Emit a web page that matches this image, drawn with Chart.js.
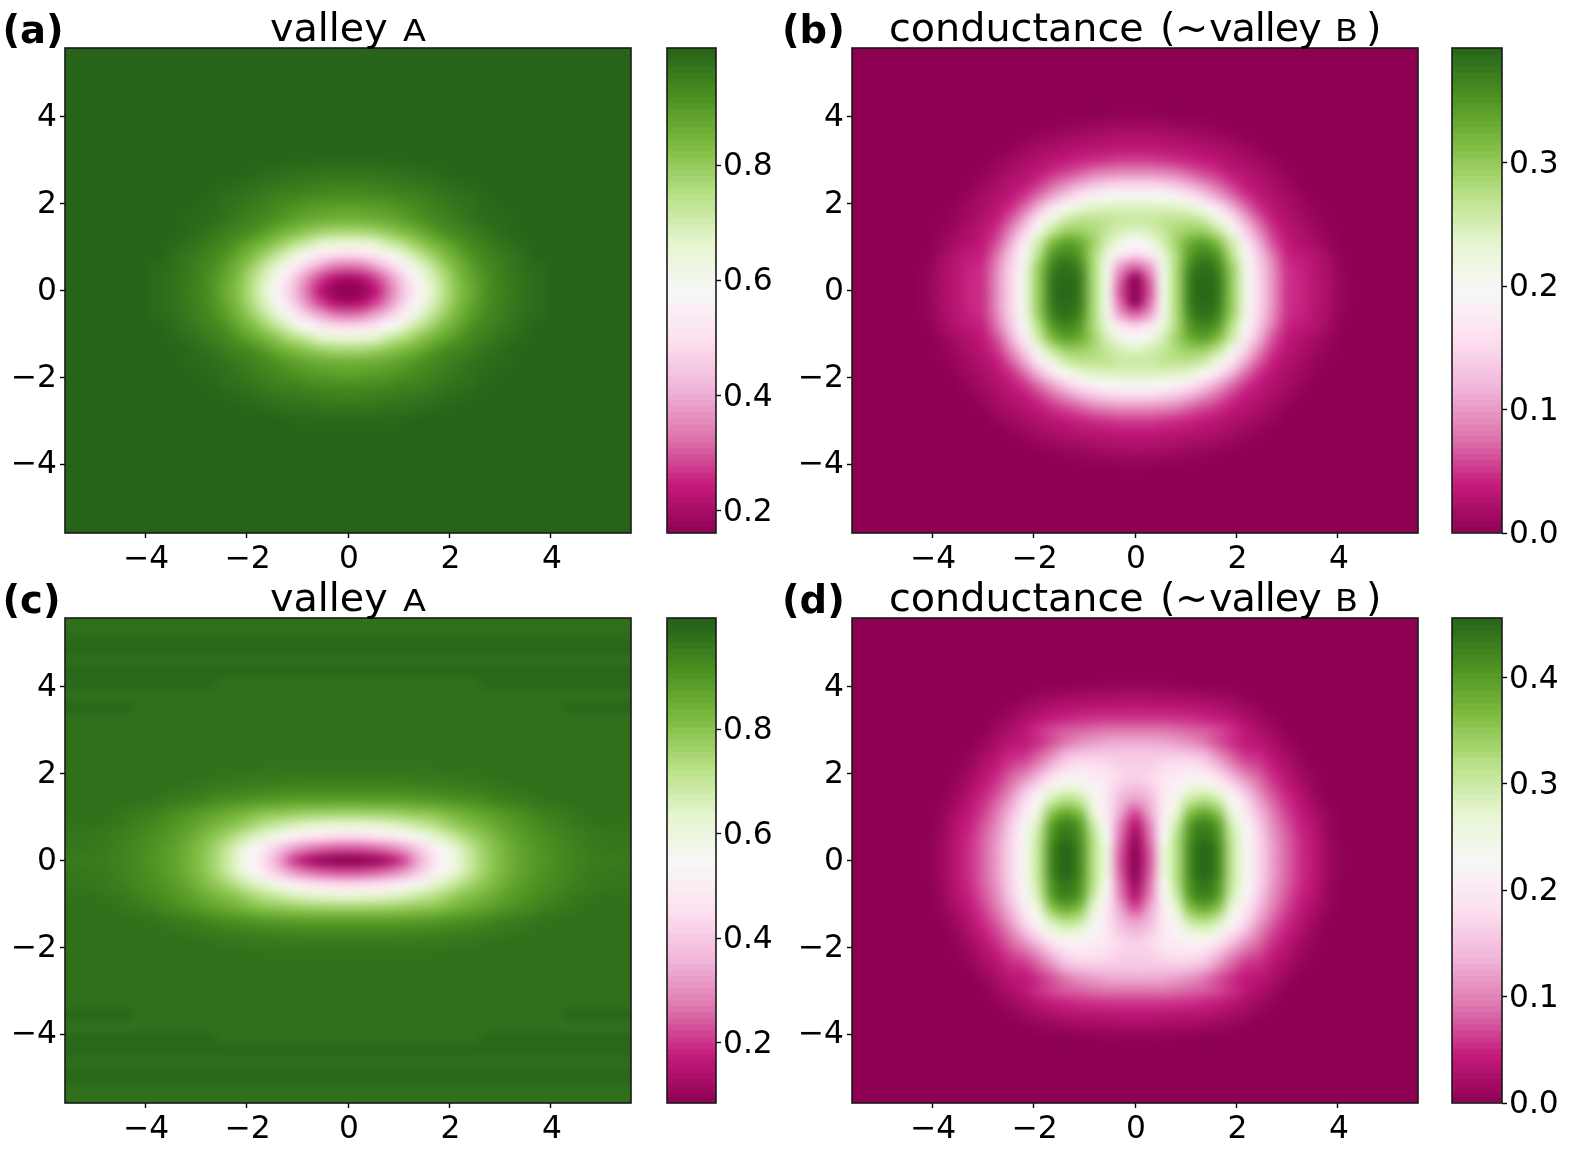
<!DOCTYPE html>
<html><head><meta charset="utf-8">
<script src="https://cdn.jsdelivr.net/npm/chart.js@4"></script>
<style>
html,body{margin:0;padding:0;background:#fff;width:1584px;height:1152px;overflow:hidden}
canvas{position:absolute}
.t{position:absolute;font-family:"DejaVu Sans";color:#000;white-space:pre;line-height:1}
.title{font-size:39.7px}.small{font-size:31px;transform:scaleX(1.08);transform-origin:left}.lab{font-size:38.5px;font-weight:bold}
.tight{font-size:39.7px;letter-spacing:-1px}
</style></head><body>
<script>
// Quadrant readings: rows are |y| steps, columns |x| steps; anything past a row's end is the panel background.
const backgroundA = 1.0, backgroundB = 0, backgroundC = 0.977, backgroundD = 0;
const panelA = [
[.161,.175,.235,.33,.44,.55,.66,.75,.82,.87,.92,.945,.965,.98,.99],
[.20,.22,.28,.36,.47,.57,.68,.76,.83,.88,.92,.95,.965,.98,.99],
[.32,.33,.385,.455,.545,.635,.72,.79,.85,.895,.93,.95,.97,.985,.99],
[.48,.49,.525,.58,.65,.72,.78,.835,.875,.92,.94,.96,.975,.99],
[.64,.65,.67,.715,.755,.80,.84,.875,.91,.94,.955,.975,.985,.995],
[.77,.77,.785,.81,.835,.86,.895,.925,.94,.955,.975,.985,.995],
[.85,.855,.86,.87,.89,.91,.93,.945,.96,.975,.985,.99,.995],
[.885,.89,.895,.905,.915,.93,.945,.955,.97,.98,.99,.995],
[.925,.925,.93,.935,.945,.95,.96,.97,.98,.985,.995],
[.95,.95,.955,.96,.965,.97,.975,.985,.99,.995],
[.975,.975,.975,.98,.98,.985,.99,.995],
[.993,.993,.993,.995,.995]
];
const panelB = [
[0,.060,.212,.283,.373,.393,.377,.299,.216,.149,.094,.051,.043,.031,.020,.006],
[.004,.070,.208,.283,.373,.389,.377,.299,.216,.149,.094,.051,.043,.031,.020,.006],
[.070,.100,.208,.283,.362,.385,.365,.295,.212,.145,.090,.049,.041,.029,.018,.004],
[.145,.165,.224,.283,.346,.365,.346,.275,.200,.134,.079,.043,.036,.027,.014,.002],
[.197,.208,.248,.291,.330,.342,.314,.255,.177,.114,.063,.037,.026,.018,.008],
[.240,.248,.263,.283,.295,.295,.267,.212,.145,.090,.051,.031,.022,.012,.004],
[.259,.259,.267,.271,.271,.255,.220,.169,.110,.067,.039,.026,.016,.008,.002],
[.244,.244,.244,.240,.228,.204,.165,.118,.075,.047,.031,.020,.012,.004],
[.204,.204,.197,.185,.165,.138,.106,.075,.051,.035,.024,.016,.008],
[.145,.145,.138,.126,.110,.090,.071,.051,.035,.028,.018,.010,.002],
[.090,.090,.086,.079,.067,.057,.047,.035,.028,.020,.012,.004],
[.055,.055,.051,.047,.043,.037,.031,.024,.018,.012,.006],
[.035,.035,.033,.031,.028,.024,.020,.016,.010,.004],
[.024,.024,.022,.020,.016,.014,.010,.006,.002],
[.012,.012,.010,.008,.006,.004,.002],
[.002,.002]
];
const panelC = [
[.084,.093,.111,.157,.221,.331,.432,.533,.634,.707,.771,.817,.853,.881,.899,.918,.936,.945,.954,.954,.959],
[.231,.235,.249,.276,.322,.395,.478,.560,.643,.716,.776,.821,.858,.886,.904,.922,.936,.950,.959,.963,.963],
[.432,.437,.450,.478,.515,.560,.615,.661,.716,.762,.803,.840,.872,.895,.913,.927,.945,.954,.963,.967,.967],
[.615,.620,.624,.643,.661,.689,.716,.753,.789,.817,.840,.867,.890,.908,.927,.940,.954,.963,.972,.972,.972],
[.762,.762,.766,.771,.780,.789,.798,.817,.840,.858,.876,.895,.913,.927,.945,.954,.963,.972,.977],
[.872,.872,.872,.872,.876,.881,.886,.895,.904,.913,.927,.940,.950,.959,.968,.972],
[.927,.927,.927,.927,.931,.931,.936,.940,.945,.950,.954,.963,.968,.972],
[.959,.959,.959,.959,.959,.963,.963,.963,.968,.968,.972],
[.972,.972,.972,.972,.972,.972,.972],
[],[],[],[],
[.977,.977,.977,.977,.977,.977,.977,.977,.977,.977,.977,.977,.977,.977,.977,.977,.992,.992,.992,.992,.992],
[],
[.977,.977,.977,.977,.977,.977,.977,.977,.977,.977,.992,.992,.992,.992,.992,.992,.992,.992,.992,.992,.992],
[.995,.995,.995,.995,.995,.995,.995,.995,.995,.995,.995,.995,.995,.995,.995,.995,.995,.995,.995,.995,.995],
[.98,.98,.98,.98,.98,.98,.98,.98,.98,.98,.98,.98,.98,.98,.98,.98,.98,.98,.98,.98,.98],
[.995,.995,.995,.995,.995,.995,.995,.995,.995,.995,.995,.995,.995,.995,.995,.995,.995,.995,.995,.995,.995],
[.985,.985,.985,.985,.985,.985,.985,.985,.985,.985,.985,.985,.985,.985,.985,.985,.985,.985,.985,.985,.985]
];
const panelD = [
[0,.070,.255,.319,.420,.456,.424,.310,.237,.173,.119,.082,.055,.036,.014,.002],
[.002,.075,.250,.319,.420,.456,.424,.310,.237,.173,.119,.082,.055,.036,.014,.002],
[.014,.085,.228,.315,.410,.442,.410,.306,.233,.169,.114,.080,.052,.034,.011],
[.035,.095,.215,.296,.401,.429,.397,.292,.223,.160,.107,.073,.048,.030,.009],
[.068,.120,.201,.269,.360,.388,.356,.264,.205,.141,.096,.064,.041,.023,.007],
[.114,.135,.196,.242,.310,.328,.301,.233,.178,.123,.082,.055,.034,.016,.002],
[.141,.155,.192,.223,.264,.274,.251,.196,.146,.100,.068,.046,.027,.009],
[.164,.173,.192,.205,.214,.214,.187,.146,.109,.082,.055,.036,.018,.005],
[.165,.165,.178,.187,.187,.173,.141,.105,.078,.064,.043,.027,.011,.002],
[.155,.155,.155,.155,.150,.137,.105,.078,.055,.050,.032,.018,.005],
[.128,.128,.125,.118,.109,.091,.073,.055,.041,.036,.023,.009],
[.091,.091,.091,.087,.082,.078,.068,.055,.039,.025,.014,.002],
[.059,.059,.059,.057,.055,.050,.046,.036,.025,.014,.005],
[.039,.039,.036,.036,.034,.032,.027,.021,.014,.005],
[.021,.021,.018,.018,.016,.014,.011,.007,.002],
[.005,.005,.005,.002,.002]
];
const axisTicks = [-4,-2,0,2,4];
const ticksA = [.2,.4,.6,.8], ticksB = [0,.1,.2,.3], ticksC = [.2,.4,.6,.8], ticksD = [0,.1,.2,.3,.4];
const piyg = ['#8e0152','#c51b7d','#de77ae','#f1b6da','#fde0ef','#f7f7f7','#e6f5d0','#b8e186','#7fbc41','#4d9221','#276419'];

const HALF = 20, AX = 5.58, STEP = 2*AX/(2*HALF+1), LEVELS = 80;
const rgb = piyg.map(h=>[1,3,5].map(k=>parseInt(h.substr(k,2),16)));
function colour(f){
  f=Math.max(0,Math.min(1,f))*10; const i=Math.min(9,Math.floor(f)), t=f-i;
  const c=rgb[i].map((a,k)=>Math.round(a+(rgb[i+1][k]-a)*t));
  return `rgb(${c[0]},${c[1]},${c[2]})`;
}
const smoothCells = {
  id:'smoothCells',
  afterDatasetsDraw(chart){
    const a=chart.chartArea, r=chart.currentDevicePixelRatio||1, n=2*HALF+1, ctx=chart.ctx;
    const off=document.createElement('canvas'); off.width=n; off.height=n;
    const o=off.getContext('2d'); o.imageSmoothingEnabled=false;
    o.drawImage(chart.canvas,a.left*r,a.top*r,(a.right-a.left)*r,(a.bottom-a.top)*r,0,0,n,n);
    ctx.save(); ctx.imageSmoothingEnabled=true; ctx.imageSmoothingQuality='high';
    ctx.drawImage(off,0,0,n,n,a.left,a.top,a.right-a.left,a.bottom-a.top);
    ctx.restore();
  }
};
const frame = {
  id:'frame',
  afterDraw(chart){
    const a=chart.chartArea, c=chart.ctx; c.save(); c.strokeStyle='#1a1a1a'; c.lineWidth=1.6;
    c.strokeRect(a.left,a.top,a.right-a.left,a.bottom-a.top); c.restore();
  }
};
const tickFont={family:'DejaVu Sans',size:31.3};
function makeCanvas(left,top,w,h){
  const c=document.createElement('canvas'); c.width=w;c.height=h;
  c.style.cssText=`left:${left}px;top:${top}px;width:${w}px;height:${h}px`;
  document.body.appendChild(c); return c;
}
function heat(left,top,rows,bg,vmin,vmax){
  const pts=[],cols=[];
  for(let j=-HALF;j<=HALF;j++){const row=rows[Math.abs(j)]||[];
    for(let i=-HALF;i<=HALF;i++){const k=Math.abs(i), v=k<row.length?row[k]:bg;
      pts.push({x:i*STEP,y:j*STEP,v});
      cols.push(colour((v-vmin)/(vmax-vmin)));}}
  const axis=(pos,fit,off)=>({type:'linear',position:pos,min:-AX,max:AX,
    afterBuildTicks(s){s.ticks=axisTicks.map(v=>({value:v}));},afterFit:fit,
    grid:{display:true,drawOnChartArea:false,drawTicks:true,tickLength:5,tickWidth:1.4,tickColor:'#000'},border:{display:false},
    ticks:{color:'#000',font:tickFont,padding:3,labelOffset:off,maxRotation:0,autoSkip:false,callback:v=>(v<0?'\u2212':'')+Math.abs(v)}});
  new Chart(makeCanvas(left,top,660,581),{type:'scatter',
    data:{datasets:[{data:pts,pointStyle:'rect',pointRadius:10.5,pointBorderWidth:0,pointBackgroundColor:cols}]},
    options:{responsive:false,animation:false,events:[],devicePixelRatio:1,layout:{padding:{top:48,right:29,left:0,bottom:0}},
      plugins:{legend:{display:false},tooltip:{enabled:false}},
      scales:{x:axis('bottom',s=>{s.height=48},1),y:axis('left',s=>{s.width=65},1)}},
    plugins:[smoothCells,frame]});
}
function bar(left,top,ticks,vmin,vmax,cmin,cmax,w){
  const ds=[];
  for(let k=LEVELS-1;k>=0;k--){
    const lo=cmin+(cmax-cmin)*k/LEVELS, mid=cmin+(cmax-cmin)*(k+.5)/LEVELS;
    ds.push({data:[[lo,cmax]],backgroundColor:colour((mid-vmin)/(vmax-vmin)),borderWidth:0,barPercentage:1,categoryPercentage:1,grouped:false});
  }
  new Chart(makeCanvas(left,top,w+5+77,581),{type:'bar',data:{labels:[''],datasets:ds},
    options:{responsive:false,animation:false,events:[],devicePixelRatio:1,layout:{padding:{top:48,left:5,right:0,bottom:48}},
      plugins:{legend:{display:false},tooltip:{enabled:false}},
      scales:{x:{display:false},
        y:{type:'linear',position:'right',min:cmin,max:cmax,afterBuildTicks(s){s.ticks=ticks.map(v=>({value:v}));},afterFit(s){s.width=77},
          grid:{display:true,drawOnChartArea:false,tickLength:5,tickWidth:1.4,tickColor:'#000'},border:{display:false},
          ticks:{color:'#000',font:tickFont,padding:2,labelOffset:2,autoSkip:false,callback:v=>v.toFixed(1)}}}},
    plugins:[frame]});
}
function text(left,top,cls,s){const d=document.createElement('div');d.className='t '+cls;d.style.left=left+'px';d.style.top=top+'px';d.textContent=s;document.body.appendChild(d);}

heat(0,0,panelA,backgroundA,.161,1);      bar(662,0,ticksA,.161,1,.161,1.0035,49);
heat(787,0,panelB,backgroundB,0,.393);    bar(1447,0,ticksB,0,.393,0,.393,50);
heat(0,570,panelC,backgroundC,.084,1);    bar(662,570,ticksC,.084,1,.084,1.013,49);
heat(787,570,panelD,backgroundD,0,.456);  bar(1447,570,ticksD,0,.456,0,.456,50);

[0,570].forEach((dy,r)=>{
  text(2.5,11+dy,'lab',r?'(c)':'(a)');
  text(782,11+dy,'lab',r?'(d)':'(b)');
  text(270,8+dy,'title','valley');
  text(403,15+dy,'small','A');
  text(889,8+dy,'title','conductance');
  text(1160,8+dy,'title','(');
  text(1175,8+dy,'title','~');
  text(1209,8+dy,'tight','valley');
  text(1335,15+dy,'small','B');
  text(1366,8+dy,'title',')');
});
</script>
</body></html>
